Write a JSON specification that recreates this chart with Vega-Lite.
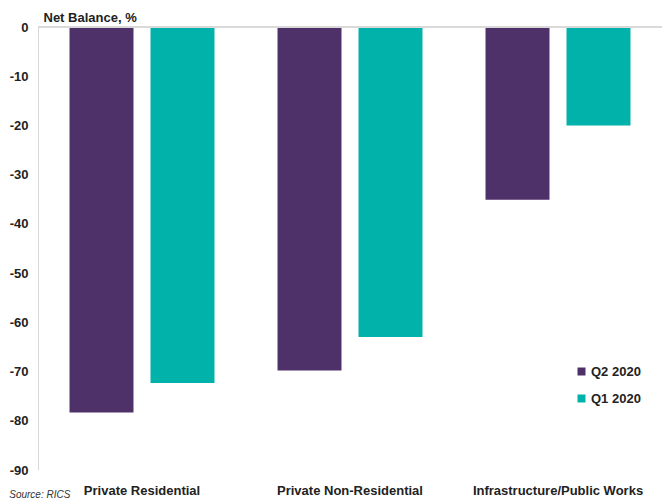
{
  "$schema": "https://vega.github.io/schema/vega-lite/v6.json",
  "autosize": "none",
  "width": 624,
  "height": 443,
  "padding": {"left": 38, "top": 27, "right": 0, "bottom": 32},
  "background": "white",
  "config": {"view": {"stroke": null}, "font": "Liberation Sans"},
  "title": {
    "text": "Source: RICS",
    "orient": "bottom",
    "anchor": "start",
    "frame": "bounds",
    "fontSize": 10,
    "fontStyle": "italic",
    "fontWeight": "normal",
    "color": "#333333",
    "offset": -7,
    "dx": 0
  },
  "data": {
    "values": [
      {"sector": "Private Residential", "period": "Q2 2020", "balance": -78.3},
      {"sector": "Private Residential", "period": "Q1 2020", "balance": -72.3},
      {"sector": "Private Non-Residential", "period": "Q2 2020", "balance": -69.8},
      {"sector": "Private Non-Residential", "period": "Q1 2020", "balance": -63.0},
      {"sector": "Infrastructure/Public Works", "period": "Q2 2020", "balance": -35.1},
      {"sector": "Infrastructure/Public Works", "period": "Q1 2020", "balance": -20.0}
    ]
  },
  "layer": [
    {
      "mark": {"type": "bar"},
      "encoding": {
        "x": {
          "field": "sector",
          "type": "nominal",
          "sort": ["Private Residential", "Private Non-Residential", "Infrastructure/Public Works"],
          "scale": {"paddingInner": 0.303, "paddingOuter": 0.1515},
          "axis": {
            "title": null,
            "domain": false,
            "ticks": false,
            "labelAngle": 0,
            "labelFontSize": 13,
            "labelFontWeight": "bold",
            "labelColor": "#222222",
            "labelPadding": 14
          }
        },
        "xOffset": {
          "field": "period",
          "type": "nominal",
          "sort": ["Q2 2020", "Q1 2020"],
          "scale": {"paddingInner": 0.21, "paddingOuter": 0}
        },
        "y": {
          "field": "balance",
          "type": "quantitative",
          "scale": {"domain": [-90, 0], "nice": false},
          "axis": {
            "values": [0, -10, -20, -30, -40, -50, -60, -70, -80, -90],
            "labelExpr": "replace(datum.label, '\u2212', '-')",
            "grid": false,
            "ticks": false,
            "domainColor": "#d9d9d9",
            "labelFontSize": 13,
            "labelFontWeight": "bold",
            "labelColor": "#222222",
            "labelPadding": 10,
            "title": "Net Balance, %",
            "titleAngle": 0,
            "titleAlign": "left",
            "titleBaseline": "alphabetic",
            "titleX": 5,
            "titleY": -6,
            "titleFontSize": 13,
            "titleFontWeight": "bold",
            "titleColor": "#222222"
          }
        },
        "color": {
          "field": "period",
          "type": "nominal",
          "sort": ["Q2 2020", "Q1 2020"],
          "scale": {"domain": ["Q2 2020", "Q1 2020"], "range": ["#4E3168", "#00B2A9"]},
          "legend": {
            "title": null,
            "orient": "none",
            "legendX": 537,
            "legendY": 338,
            "symbolType": "square",
            "symbolSize": 64,
            "symbolStrokeWidth": 0,
            "labelFontSize": 13,
            "labelFontWeight": "bold",
            "labelColor": "#222222",
            "rowPadding": 13,
            "labelOffset": 3
          }
        }
      }
    },
    {
      "mark": {"type": "rule", "color": "#d9d9d9", "strokeWidth": 1},
      "encoding": {"y": {"datum": 0}}
    }
  ]
}
